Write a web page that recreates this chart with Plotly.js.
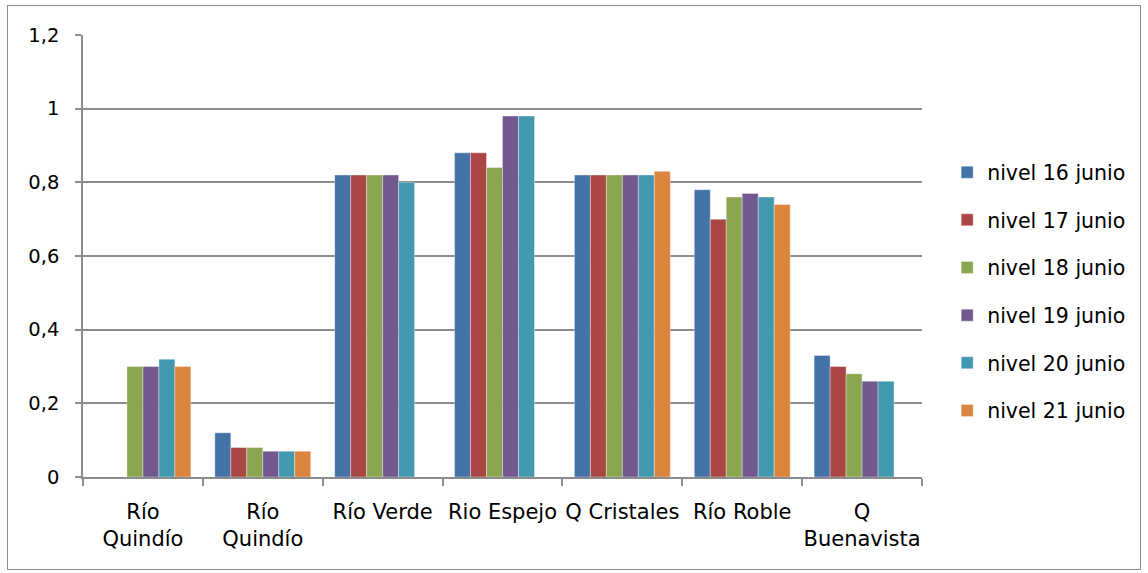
<!DOCTYPE html>
<html>
<head>
<meta charset="utf-8">
<script src="https://cdn.plot.ly/plotly-3.0.1.min.js"></script>
<style>
  html, body { margin: 0; padding: 0; background: #fff; }
  #wrap { position: relative; width: 1148px; height: 573px; }
  #chart { width: 1148px; height: 573px; }
  #frame { position: absolute; left: 7px; top: 5px; width: 1132px; height: 563px;
           border: 1px solid #8c8c8c; pointer-events: none; }
</style>
</head>
<body>
<div id="wrap">
  <div id="chart"></div>
  <div id="frame"></div>
</div>
<script>
// Categories (two stations share the same name, so they are placed by index)
const categories = ["Río<br>Quindío", "Río<br>Quindío", "Río Verde", "Rio Espejo", "Q Cristales", "Río Roble", "Q<br>Buenavista"];

const seriesNames = ["nivel 16 junio", "nivel 17 junio", "nivel 18 junio", "nivel 19 junio", "nivel 20 junio", "nivel 21 junio"];

const nivel16 = [null, 0.12, 0.82, 0.88, 0.82, 0.78, 0.33];
const nivel17 = [null, 0.08, 0.82, 0.88, 0.82, 0.70, 0.30];
const nivel18 = [0.30, 0.08, 0.82, 0.84, 0.82, 0.76, 0.28];
const nivel19 = [0.30, 0.07, 0.82, 0.98, 0.82, 0.77, 0.26];
const nivel20 = [0.32, 0.07, 0.80, 0.98, 0.82, 0.76, 0.26];
const nivel21 = [0.30, 0.07, null, null, 0.83, 0.74, null];

const seriesValues = [nivel16, nivel17, nivel18, nivel19, nivel20, nivel21];
const colors = ["#4572A7", "#AA4643", "#89A54E", "#71588F", "#4198AF", "#DB843D"];

const xIdx = categories.map((c, i) => i);

const traces = seriesValues.map((vals, k) => ({
  type: "bar",
  name: seriesNames[k],
  legendgroup: "g" + k,
  x: xIdx,
  y: vals,
  marker: { color: colors[k], line: { color: "rgba(255,255,255,0.6)", width: 0.6 } },
  hoverinfo: "y+name"
}));

const FONT = "'DejaVu Sans', 'Noto Sans', sans-serif";

const layout = {
  width: 1148,
  height: 573,
  margin: { l: 83, r: 226, t: 35, b: 96 },
  paper_bgcolor: "#ffffff",
  plot_bgcolor: "#ffffff",
  separators: ",.",
  barmode: "group",
  bargap: 0.2,
  bargroupgap: 0,
  font: { family: FONT, size: 19, color: "#000000" },
  showlegend: true,
  legend: {
    x: 1.030, xanchor: "left",
    y: 0.42, yanchor: "middle",
    font: { family: FONT, size: 20.5, color: "#000000" },
    tracegroupgap: 18,
    itemwidth: 30
  },
  xaxis: {
    range: [-0.5, 6.5],
    tickmode: "array",
    tickvals: xIdx,
    ticktext: categories,
    ticks: "",
    ticklabelstandoff: 15,
    showgrid: false,
    zeroline: false,
    showline: true,
    linecolor: "#8c8c8c",
    linewidth: 1.5,
    tickfont: { family: FONT, size: 21, color: "#000000" },
    minor: { tick0: 0.5, dtick: 1, ticks: "outside", ticklen: 7, tickcolor: "#8c8c8c", tickwidth: 1.5, showgrid: false }
  },
  yaxis: {
    range: [0, 1.2],
    tickmode: "linear",
    tick0: 0,
    dtick: 0.2,
    ticks: "outside",
    ticklen: 6,
    tickcolor: "#8c8c8c",
    tickwidth: 1.5,
    ticklabelstandoff: 12,
    showgrid: true,
    gridcolor: "#8c8c8c",
    gridwidth: 1.5,
    zeroline: false,
    showline: true,
    linecolor: "#8c8c8c",
    linewidth: 1.5,
    tickfont: { family: FONT, size: 19.5, color: "#000000" }
  }
};

Plotly.newPlot("chart", traces, layout, { displayModeBar: false, responsive: false });
</script>
</body>
</html>
